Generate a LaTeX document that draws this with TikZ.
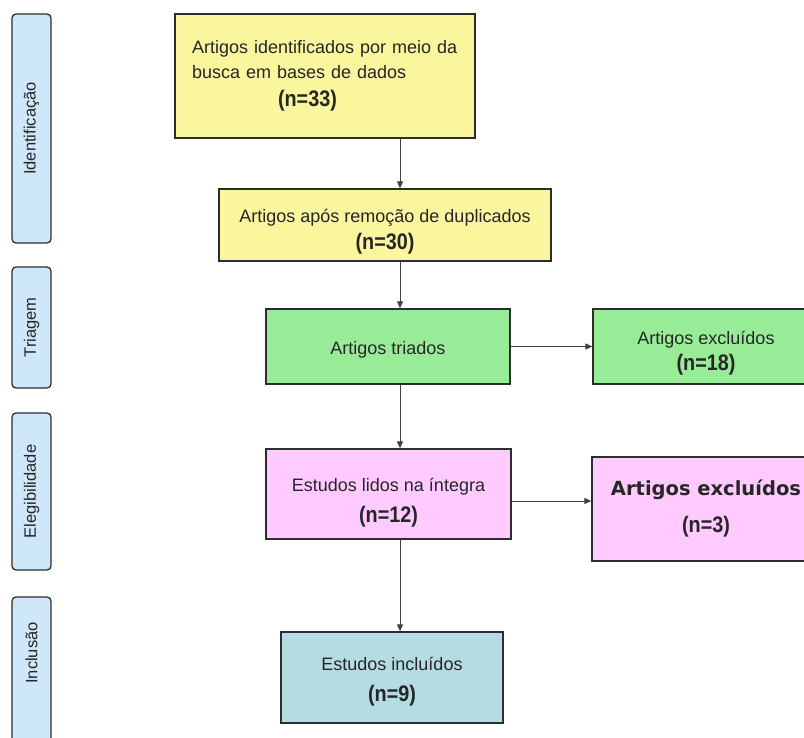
\documentclass[tikz,border=0pt]{standalone}
\usepackage{fontspec}
\setmainfont{Liberation Sans}
\newfontfamily\widebold{DejaVu Sans}
\newfontfamily\narrowbold{Liberation Sans Bold}[FakeStretch=0.88]
\usepackage{tikz}
\usetikzlibrary{arrows.meta}

\definecolor{boxline}{RGB}{45,45,45}
\definecolor{idyellow}{RGB}{250,246,158}
\definecolor{trgreen}{RGB}{152,236,152}
\definecolor{elpink}{RGB}{255,202,255}
\definecolor{inteal}{RGB}{180,220,226}
\definecolor{phaseblue}{RGB}{206,232,250}

\newcommand{\nval}[1]{{\narrowbold\fontsize{22.5}{24}\selectfont(n=#1)}}

\begin{document}
\begin{tikzpicture}[x=1pt, y=-1pt,
    flow box/.style={draw=boxline, line width=1.3pt, inner sep=0pt, align=center,
        text=black!85, font=\fontsize{18}{25}\selectfont},
    phase box/.style={draw=boxline, line width=1.3pt, rounded corners=4pt, fill=phaseblue,
        rotate=90, inner sep=0pt, minimum height=39pt, text=black!85,
        font=\fontsize{16.5}{18}\selectfont},
    flow arrow/.style={draw=black!75, line width=1pt, -{Triangle[length=7pt,width=6pt]}}]
    \useasboundingbox (0,0) rectangle (804,738);
    \clip (0,0) rectangle (804,738);

    % fases
    \node[phase box, minimum width=229pt] (ident) at (31.5,128.5) {Identificação};
    \node[phase box, minimum width=121pt] (triag) at (31.5,327.5) {Triagem};
    \node[phase box, minimum width=157pt] (eleg) at (31.5,491.5) {Elegibilidade};
    \node[phase box, minimum width=170pt] (incl) at (31.5,682) {\hspace*{58pt}Inclusão};

    % caixas
    \node[flow box, fill=idyellow, minimum width=300pt, minimum height=124pt,
        text width=266pt, align=left] (busca) at (325,76)
        {Artigos identificados por meio da\\ busca em bases de dados\\[3pt] \hspace*{86pt}\nval{33}\\[10pt]};
    \node[flow box, fill=idyellow, minimum width=332pt, minimum height=72pt] (dup) at (385,225)
        {\rule{0pt}{26pt}Artigos após remoção de duplicados\\[2pt] \nval{30}};
    \node[flow box, fill=trgreen, minimum width=244pt, minimum height=75pt] (triados) at (388,346.5)
        {\rule{0pt}{19pt}Artigos triados};
    \node[flow box, fill=trgreen, minimum width=226pt, minimum height=75pt] (excl18) at (706,346.5)
        {\rule{0pt}{27pt}Artigos excluídos\\[1pt] \nval{18}};
    \node[flow box, fill=elpink, minimum width=245pt, minimum height=90pt] (lidos) at (388.5,494)
        {\rule{0pt}{30pt}Estudos lidos na íntegra\\[6pt] \nval{12}};
    \node[flow box, fill=elpink, minimum width=228pt, minimum height=104pt] (excl3) at (706,509)
        {{\widebold\bfseries\fontsize{19.5}{24}\selectfont Artigos excluídos}\\[12pt] \nval{3}};
    \node[flow box, fill=inteal, minimum width=222pt, minimum height=91pt] (incluidos) at (392,677.5)
        {\rule{0pt}{22pt}Estudos incluídos\\[6pt] \nval{9}};

    % setas
    \coordinate (spine) at (400,0);
    \draw[flow arrow] (busca.south -| spine) -- (dup.north -| spine);
    \draw[flow arrow] (dup.south -| spine) -- (triados.north -| spine);
    \draw[flow arrow] (triados.south -| spine) -- (lidos.north -| spine);
    \draw[flow arrow] (lidos.south -| spine) -- (incluidos.north -| spine);
    \draw[flow arrow] (triados.east) -- (excl18.west);
    \draw[flow arrow] ([yshift=-7pt]lidos.east) -- ([yshift=-7pt]lidos.east -| excl3.west);
\end{tikzpicture}
\end{document}
